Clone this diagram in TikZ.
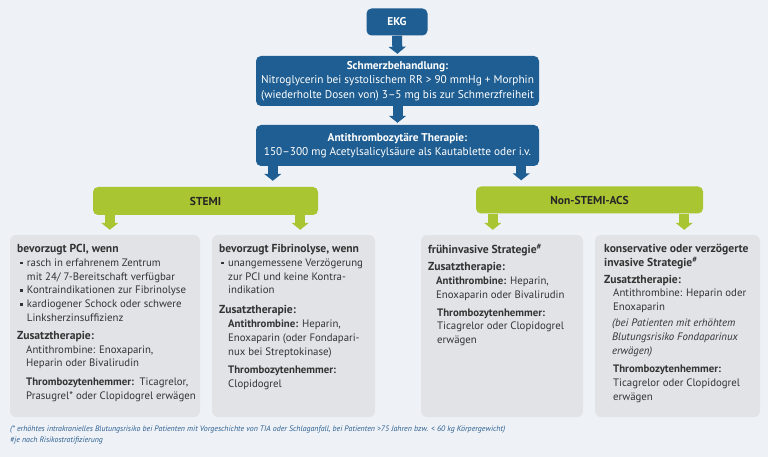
\documentclass[tikz,border=0pt]{standalone}
\usepackage{fontspec}
\setmainfont{PT Sans}
\usetikzlibrary{arrows.meta}
\definecolor{ekgblue}{HTML}{1F5E92}
\definecolor{acsgreen}{HTML}{A9C532}
\definecolor{boxgray}{HTML}{E1E3E7}
\definecolor{bggray}{HTML}{EEF1F6}
\definecolor{notetext}{HTML}{2C5F90}
\definecolor{bodytext}{HTML}{333333}
\tikzset{
  bluebox/.style={fill=ekgblue, rounded corners=5pt, text=white, align=center, inner sep=0pt,
    font=\fontsize{11.3}{14.6}\selectfont},
  greenbox/.style={fill=acsgreen, rounded corners=5pt, text=black!85, inner sep=0pt,
    font=\bfseries\fontsize{11.5}{12}\selectfont},
  graybox/.style={fill=boxgray, rounded corners=6pt, inner sep=0pt},
  boxtext/.style={anchor=north west, align=left, inner sep=0pt, text=bodytext,
    font=\fontsize{10.8}{13.8}\selectfont},
  bluearrow/.style={draw=ekgblue, line width=10pt, -{Triangle[width=17pt,length=7pt]}},
  greenarrow/.style={draw=acsgreen, line width=10pt, -{Triangle[width=17pt,length=7pt]}},
}
\newcommand{\sqbullet}{\raisebox{1.8pt}{\rule{2.8pt}{2.8pt}}\hspace{4pt}}
\newcommand{\boxhead}[1]{\textbf{\fontsize{11.6}{13.8}\selectfont #1}}

\begin{document}
\begin{tikzpicture}[x=1pt,y=-1pt]
\useasboundingbox[fill=bggray] (0,0) rectangle (768,457);

% Kopf
\node[bluebox, minimum width=61pt, minimum height=27pt] (ekg) at (397,22) {\textbf{EKG}};
\node[bluebox, minimum width=283pt, minimum height=50pt] (schmerz) at (397.5,81)
  {\textbf{Schmerzbehandlung:}\\Nitroglycerin bei systolischem RR > 90 mmHg + Morphin\\(wiederholte Dosen von) 3–5 mg bis zur Schmerzfreiheit};
\node[bluebox, minimum width=283pt, minimum height=41pt] (anti) at (397.5,145.5)
  {\textbf{Antithrombozytäre Therapie:}\\150–300 mg Acetylsalicylsäure als Kautablette oder i.v.};

\draw[bluearrow, shorten >=2pt] (ekg.south) -- (schmerz.north);
\draw[bluearrow, shorten >=2pt] (schmerz.south) -- (anti.north);

% Verzweigung
\node[greenbox, minimum width=225pt, minimum height=28pt] (stemi) at (205.5,201) {STEMI};
\node[greenbox, minimum width=227pt, minimum height=27pt] (nstemi) at (589.5,200) {Non-STEMI-ACS};

\draw[bluearrow, shorten >=6pt] ([xshift=17pt]anti.south west) -- ([xshift=17pt]anti.south west |- stemi.north);
\draw[bluearrow, shorten >=6pt] ([xshift=-18pt]anti.south east) -- ([xshift=-18pt]anti.south east |- nstemi.north);

% Kaesten
\node[graybox, minimum width=190pt, minimum height=182pt] (pci) at (105,326) {};
\node[graybox, minimum width=163pt, minimum height=182pt] (lyse) at (293.5,326) {};
\node[graybox, minimum width=162pt, minimum height=182pt] (frueh) at (502,326) {};
\node[graybox, minimum width=165pt, minimum height=182pt] (konserv) at (677.5,326) {};

\draw[greenarrow, shorten >=5pt] ([xshift=17pt]stemi.south west) -- ([xshift=17pt]stemi.south west |- pci.north);
\draw[greenarrow, shorten >=5pt] ([xshift=-18pt]stemi.south east) -- ([xshift=-18pt]stemi.south east |- lyse.north);
\draw[greenarrow, shorten >=5pt] ([xshift=17pt]nstemi.south west) -- ([xshift=17pt]nstemi.south west |- frueh.north);
\draw[greenarrow, shorten >=5pt] ([xshift=-19pt]nstemi.south east) -- ([xshift=-19pt]nstemi.south east |- konserv.north);

\node[boxtext] (pcitext) at (17,244) {%
  \boxhead{bevorzugt PCI, wenn}\\
  \hspace*{3pt}\sqbullet rasch in erfahrenem Zentrum\\
  \hspace*{9.8pt}mit 24/ 7-Bereitschaft verfügbar\\
  \hspace*{3pt}\sqbullet Kontraindikationen zur Fibrinolyse\\
  \hspace*{3pt}\sqbullet kardiogener Schock oder schwere\\
  \hspace*{9.8pt}Linksherzinsuffizienz\\[4pt]
  \boxhead{Zusatztherapie:}\\
  \hspace*{9pt}Antithrombine: Enoxaparin,\\
  \hspace*{9pt}Heparin oder Bivalirudin\\[5pt]
  \hspace*{9pt}\textbf{Thrombozytenhemmer:}\ \ Ticagrelor,\\
  \hspace*{9pt}Prasugrel* oder Clopidogrel erwägen};

\node[boxtext] (lysetext) at (219,244) {%
  \boxhead{bevorzugt Fibrinolyse, wenn}\\
  \hspace*{2pt}\sqbullet unangemessene Verzögerung\\
  \hspace*{9pt}zur PCI und keine Kontra-\\
  \hspace*{9pt}indikation\\[6pt]
  \boxhead{Zusatztherapie:}\\
  \hspace*{9pt}\textbf{Antithrombine:} Heparin,\\
  \hspace*{9pt}Enoxaparin (oder Fondapari-\\
  \hspace*{9pt}nux bei Streptokinase)\\[5pt]
  \hspace*{9pt}\textbf{Thrombozytenhemmer:}\\
  \hspace*{9pt}Clopidogrel};

\node[boxtext] (fruehtext) at (428,244) {%
  \boxhead{frühinvasive Strategie\textsuperscript{\#}}\\[3pt]
  \boxhead{Zusatztherapie:}\\
  \hspace*{8pt}\textbf{Antithrombine:} Heparin,\\
  \hspace*{8pt}Enoxaparin oder Bivalirudin\\[4pt]
  \hspace*{9pt}\textbf{Thrombozytenhemmer:}\\
  \hspace*{9pt}Ticagrelor oder Clopidogrel\\
  \hspace*{9pt}erwägen};

\node[boxtext] (konservtext) at (604,244) {%
  \boxhead{konservative oder verzögerte}\\
  \boxhead{invasive Strategie\textsuperscript{\#}}\\[3pt]
  \boxhead{Zusatztherapie:}\\
  \hspace*{9pt}Antithrombine: Heparin oder\\
  \hspace*{9pt}Enoxaparin\\[2pt]
  \hspace*{8pt}\textit{(bei Patienten mit erhöhtem}\\
  \hspace*{8pt}\textit{Blutungsrisiko Fondaparinux}\\
  \hspace*{8pt}\textit{erwägen)}\\[5pt]
  \hspace*{9pt}\textbf{Thrombozytenhemmer:}\\
  \hspace*{9pt}Ticagrelor oder Clopidogrel\\
  \hspace*{9pt}erwägen};

% Fussnote
\node[anchor=north west, align=left, inner sep=0pt, text=notetext,
  font=\itshape\fontsize{7.9}{11}\selectfont] (fussnote) at (10,426)
  {(* erhöhtes intrakranielles Blutungsrisiko bei Patienten mit Vorgeschichte von TIA oder Schlaganfall, bei Patienten >75 Jahren bzw. < 60 kg Körpergewicht)\\
  \#je nach Risikostratifizierung};
\end{tikzpicture}
\end{document}
